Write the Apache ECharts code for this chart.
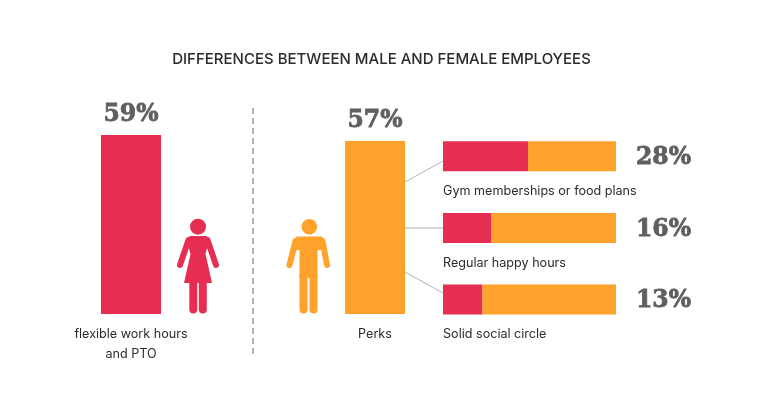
<!DOCTYPE html>
<html><head><meta charset="utf-8">
<style>html,body{margin:0;padding:0;background:#fff}#c{width:763px;height:400px}</style>
<script src="https://cdn.jsdelivr.net/npm/echarts@6/dist/echarts.min.js"></script>
</head><body><div id="c"></div>
<script>
const titleText = 'DIFFERENCES BETWEEN MALE AND FEMALE EMPLOYEES';
const femaleCategory = ['flexible work hours\nand PTO'];
const femaleValues = [59];
const maleCategory = ['Perks'];
const maleValues = [57];
const perkNames = ['Gym memberships or food plans', 'Regular happy hours', 'Solid social circle'];
const perkValues = [28, 16, 13];
const perkRemainder = [29, 41, 44];

const RED = '#E62E52', ORANGE = '#FFA22B', GREY = '#5F5F5F', INK = '#2B2B2B';
const sans = 'Inter', serif = 'DejaVu Serif';
const pctLabel = {fontFamily: serif, fontWeight: 'bold', fontSize: 23.5, color: GREY, textBorderColor: GREY, textBorderWidth: 0.8};
const catLabel = {fontFamily: sans, fontSize: 12.6, color: INK, lineHeight: 20};

function vGrid(left){ return {left, width: 60, top: 132, height: 182, containLabel: false}; }
function line(x1,y1,x2,y2,color,width,dash){
  return {type:'line', shape:{x1,y1,x2,y2}, silent:true,
    style:{stroke:color, lineWidth:width, lineCap: dash?'butt':'round', lineDash: dash||null}};
}
function limb(x1,y1,x2,y2,color,width){ return line(x1,y1,x2,y2,color,width); }
function poly(points,color){
  return {type:'polygon', shape:{points}, silent:true, style:{fill:color}};
}
function circle(cx,cy,r,color){ return {type:'circle', shape:{cx,cy,r}, silent:true, style:{fill:color}}; }

const woman = [
  circle(198,226.7,8,RED),
  poly([[190,236],[206,236],[209.5,239],[205.5,254],[212,283],[184,283],[190.5,254],[186.5,239]],RED),
  limb(188.5,240,180,265,RED,6), limb(207.5,240,216,265,RED,6),
  limb(193.3,283,193.3,309.5,RED,8), limb(202.8,283,202.8,309.5,RED,8)
];
const man = [
  circle(309.3,226.7,7.8,ORANGE),
  poly([[297,236.5],[321.5,236.5],[325,240],[321,250],[317.5,250],[317.5,278],[299.5,278],[299.5,250],[296,250],[293,240]],ORANGE),
  limb(295.5,241,289.5,265,ORANGE,6), limb(322.5,241,327,265,ORANGE,6),
  limb(303.5,276,303.5,309.5,ORANGE,8), limb(313.5,276,313.5,309.5,ORANGE,8)
];

const chart = echarts.init(document.getElementById('c'));
chart.setOption({
  animation: false,
  backgroundColor: '#fff',
  title: {text: titleText, left: 'center', top: 47,
    textStyle: {fontFamily: sans, fontSize: 15, fontWeight: 500, color: INK}},
  grid: [vGrid(101), vGrid(345), {left: 443, width: 173, top: 120.4, height: 215}],
  xAxis: [
    {gridIndex:0, type:'category', data:femaleCategory, axisLine:{show:false}, axisTick:{show:false},
      axisLabel:Object.assign({margin:10, interval:0}, catLabel)},
    {gridIndex:1, type:'category', data:maleCategory, axisLine:{show:false}, axisTick:{show:false},
      axisLabel:Object.assign({margin:10, interval:0}, catLabel)},
    {gridIndex:2, type:'value', min:0, max:57, show:false}
  ],
  yAxis: [
    {gridIndex:0, type:'value', min:0, max:60, show:false},
    {gridIndex:1, type:'value', min:0, max:60, show:false},
    {gridIndex:2, type:'category', inverse:true, data:perkNames, show:false}
  ],
  series: [
    {type:'bar', xAxisIndex:0, yAxisIndex:0, data:femaleValues, barWidth:'100%', itemStyle:{color:RED},
      label:Object.assign({show:true, position:'top', distance:8, formatter:'{c}%'}, pctLabel)},
    {type:'bar', xAxisIndex:1, yAxisIndex:1, data:maleValues, barWidth:'100%', itemStyle:{color:ORANGE},
      label:Object.assign({show:true, position:'top', distance:8, formatter:'{c}%'}, pctLabel)},
    {type:'bar', xAxisIndex:2, yAxisIndex:2, stack:'perks', data:perkValues, barWidth:30, itemStyle:{color:RED},
      label:Object.assign({show:true, position:[0,43], formatter:p=>p.name}, catLabel, {lineHeight:14})},
    {type:'bar', xAxisIndex:2, yAxisIndex:2, stack:'perks', data:perkRemainder, barWidth:30, itemStyle:{color:ORANGE},
      label:Object.assign({show:true, position:'right', distance:20, offset:[0,1.5], formatter:p=>perkValues[p.dataIndex]+'%'}, pctLabel)}
  ],
  graphic: {elements: [
    line(253,108,253,355,'#9A9A9A',1.5,[6,4]),
    line(405,182,443,161,'#B5B5B5',1),
    line(405,228,443,228,'#C8C8C8',1.5),
    line(405,272,443,293,'#B5B5B5',1),
    ...woman, ...man
  ]}
});
</script></body></html>
